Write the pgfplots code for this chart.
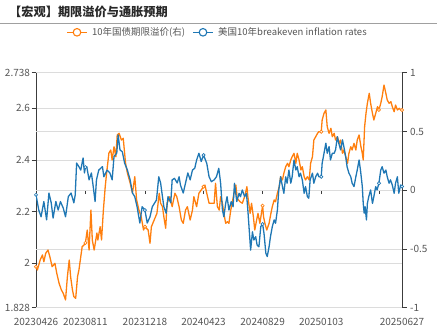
\documentclass[border=0pt]{standalone}
\usepackage{fontspec}
\setmainfont{Noto Sans CJK SC}
\usepackage{pgfplots}
\pgfplotsset{compat=1.18}
\usepackage{pgfplotstable}
\definecolor{cblue}{RGB}{31,119,180}
\definecolor{corange}{RGB}{255,127,14}
\definecolor{gridc}{RGB}{220,220,220}
\definecolor{axc}{RGB}{60,60,60}
\definecolor{txt}{RGB}{85,85,85}

\pgfplotstableread{
day val
0 2.265
6 2.206
11 2.180
17 2.239
23 2.168
28 2.272
33 2.234
37 2.175
43 2.239
48 2.206
53 2.239
59 2.214
64 2.180
70 2.258
76 2.272
82 2.234
85 2.265
88 2.388
93 2.374
97 2.361
102 2.408
105 2.350
107 2.372
110 2.374
115 2.323
120 2.350
124 2.297
128 2.239
131 2.323
136 2.361
144 2.374
147 2.335
154 2.361
160 2.350
165 2.323
169 2.413
175 2.427
178 2.497
182 2.439
187 2.432
192 2.388
198 2.361
204 2.323
209 2.272
214 2.258
219 2.219
225 2.156
230 2.219
236 2.206
241 2.156
247 2.180
252 2.219
261 2.245
266 2.335
270 2.311
274 2.258
277 2.219
282 2.194
286 2.258
292 2.234
295 2.323
300 2.329
306 2.311
310 2.335
313 2.303
319 2.272
324 2.311
329 2.350
334 2.323
339 2.361
344 2.368
348 2.400
353 2.426
358 2.394
363 2.419
370 2.387
375 2.335
380 2.316
386 2.323
391 2.335
396 2.368
400 2.310
404 2.206
407 2.180
411 2.232
414 2.258
418 2.206
423 2.239
427 2.219
430 2.310
435 2.239
440 2.271
443 2.258
447 2.284
452 2.258
456 2.271
459 2.206
462 2.129
465 2.051
469 2.122
472 2.090
476 2.103
479 2.071
483 2.064
487 2.142
491 2.152
494 2.116
498 2.039
501 2.026
505 2.064
508 2.103
512 2.142
516 2.168
519 2.155
523 2.206
526 2.284
530 2.335
534 2.297
537 2.271
541 2.335
544 2.310
548 2.361
552 2.310
555 2.335
559 2.400
563 2.361
566 2.374
570 2.335
573 2.349
577 2.323
581 2.271
584 2.297
588 2.258
591 2.252
594 2.323
599 2.349
602 2.310
606 2.335
610 2.349
613 2.335
618 2.335
620 2.387
624 2.426
628 2.465
631 2.426
635 2.452
638 2.400
642 2.426
646 2.426
649 2.439
653 2.490
656 2.465
660 2.439
664 2.478
667 2.452
671 2.413
674 2.374
678 2.349
682 2.335
685 2.310
689 2.297
693 2.335
696 2.361
700 2.400
703 2.361
707 2.297
709 2.232
711 2.194
713 2.219
716 2.168
718 2.232
721 2.258
725 2.284
729 2.232
732 2.258
736 2.297
739 2.284
743 2.310
747 2.361
750 2.374
754 2.349
758 2.361
761 2.335
765 2.310
768 2.323
772 2.303
776 2.271
779 2.310
783 2.335
786 2.271
790 2.303
793 2.297
}\bluetable

\pgfplotstableread{
day val
0 -0.651
3 -0.679
9 -0.594
14 -0.551
17 -0.609
21 -0.537
26 -0.509
30 -0.566
35 -0.651
41 -0.622
45 -0.707
50 -0.792
55 -0.849
59 -0.877
64 -0.934
68 -0.736
72 -0.594
75 -0.736
79 -0.849
82 -0.906
86 -0.920
90 -0.736
93 -0.679
97 -0.566
100 -0.481
104 -0.466
107 -0.449
111 -0.339
115 -0.509
119 -0.169
122 -0.424
126 -0.509
132 -0.364
134 -0.424
139 -0.311
142 -0.424
146 -0.169
150 0.030
153 0.146
158 0.317
162 0.342
165 0.257
169 0.370
173 0.285
176 0.470
180 0.484
185 0.427
189 0.442
194 0.231
198 0.146
204 0.061
209 -0.024
214 0.115
218 -0.083
223 -0.169
228 -0.226
233 -0.339
236 -0.311
243 -0.339
247 -0.452
250 -0.311
256 -0.254
262 -0.197
267 -0.026
270 -0.111
274 -0.140
277 -0.226
281 -0.324
284 -0.111
290 -0.055
295 -0.140
301 -0.026
305 -0.055
310 -0.140
315 -0.254
319 -0.282
324 -0.169
328 -0.140
334 -0.254
339 -0.169
342 -0.055
348 -0.140
353 -0.026
358 0.002
363 0.030
366 0.044
370 -0.026
375 -0.111
380 -0.111
386 -0.111
389 0.059
393 -0.140
397 -0.169
400 -0.055
404 -0.111
407 -0.197
411 -0.282
415 -0.268
418 -0.282
422 -0.169
425 -0.111
429 -0.026
433 0.044
436 -0.069
442 -0.098
447 -0.111
452 -0.055
457 0.030
459 -0.055
464 -0.197
467 -0.111
471 -0.226
474 -0.339
478 -0.254
481 -0.197
485 -0.282
491 -0.132
493 -0.226
496 -0.282
500 -0.339
505 -0.282
509 -0.197
512 -0.140
516 -0.083
519 -0.098
523 -0.026
527 0.030
530 0.115
534 0.087
537 0.144
541 0.200
545 0.229
548 0.200
552 0.257
555 0.285
559 0.314
563 0.229
566 0.314
570 0.257
574 0.172
577 0.200
581 0.115
584 0.087
588 0.115
592 0.087
595 0.229
599 0.285
602 0.427
606 0.455
610 0.484
613 0.498
618 0.498
620 0.597
624 0.654
628 0.683
631 0.540
635 0.484
639 0.527
642 0.455
646 0.484
649 0.427
653 0.455
657 0.399
660 0.427
664 0.314
667 0.342
671 0.285
675 0.229
678 0.314
682 0.370
685 0.342
689 0.399
693 0.342
696 0.427
700 0.470
704 0.370
707 0.314
709 0.257
712 0.540
715 0.654
718 0.740
722 0.825
725 0.740
729 0.654
732 0.597
736 0.654
740 0.711
743 0.683
747 0.740
750 0.796
754 0.895
758 0.825
761 0.768
765 0.740
769 0.753
772 0.711
776 0.668
779 0.725
783 0.683
787 0.697
790 0.683
793 0.683
}\orangetable

\pgfplotsset{
  base/.style={
    scale only axis, width=366pt, height=235pt,
    at={(36pt,22.3pt)}, anchor=south west,
    xmin=0, xmax=793,
    ticklabel style={font=\fontsize{10}{12}\selectfont, text=txt},
    tick style={draw=axc, line width=0.7pt},
    tick align=outside, major tick length=4.5pt,
  },
}

\begin{document}
\begin{tikzpicture}
\path[use as bounding box] (0,0) rectangle (441pt,330pt);

% left axis: grid, labels
\begin{axis}[base,
  ymin=1.828, ymax=2.738,
  axis x line*=bottom, axis y line*=left,
  x axis line style={draw=gridc, line width=0.8pt, -},
  y axis line style={draw=axc, line width=0.8pt, -},
  xtick={0,107,236,363,491,618,793},
  xticklabels={20230426,20230811,20231218,20240423,20240829,20250103,20250627},
  xtick style={draw=none},
  major x tick style={draw=none},
  xticklabel style={yshift=-3pt},
  yticklabel style={xshift=2pt},
  ytick={1.828,2,2.2,2.4,2.6,2.738},
  yticklabels={1.828,2,2.2,2.4,2.6,2.738},
  ymajorgrids, grid style={draw=gridc, line width=0.8pt},
]
\end{axis}

% zero line with its ticks (right scale)
\begin{axis}[base,
  ymin=-1, ymax=1,
  axis x line=middle, axis y line=none,
  x axis line style={draw=axc, line width=0.8pt, -},
  xtick={107,236,363,491,618,743},
  xticklabels={},
  xtick style={draw=axc, line width=0.7pt},
  major tick length=4pt, tick align=outside,
]
\end{axis}

% right axis: orange
\begin{axis}[base,
  ymin=-1, ymax=1,
  axis x line=none, axis y line*=right,
  y axis line style={draw=axc, line width=0.8pt, -},
  ytick={-1,-0.5,0,0.5,1},
  yticklabels={-1,-0.5,0,0.5,1},
  ymajorgrids, grid style={draw=gridc, line width=0.8pt},
]
\addplot[corange, line width=1.3pt, line join=round] table[x=day,y=val] {\orangetable};
\addplot[only marks, mark=*, mark size=1.6pt, mark options={fill=white, draw=corange, line width=0.7pt}]
  coordinates {(0,-0.651) (107,-0.449) (236,-0.311) (363,0.030) (491,-0.132) (618,0.498) (743,0.683) (793,0.683)};
\end{axis}

% blue series on left scale
\begin{axis}[base, ymin=1.828, ymax=2.738, hide axis]
\addplot[cblue, line width=1.3pt, line join=round] table[x=day,y=val] {\bluetable};
\addplot[only marks, mark=*, mark size=1.6pt, mark options={fill=white, draw=cblue, line width=0.7pt}]
  coordinates {(0,2.265) (107,2.372) (236,2.206) (363,2.419) (491,2.152) (618,2.335) (743,2.310) (793,2.297)};
\end{axis}

% title and rule
\node[anchor=west, inner sep=0pt, font=\bfseries\fontsize{12.2}{14}\selectfont, text={rgb,255:red,40;green,40;blue,40}] at (9pt,318pt) {【宏观】期限溢价与通胀预期};
\draw[draw={rgb,255:red,160;green,160;blue,160}, line width=0.8pt] (0pt,306.7pt) -- (437pt,306.7pt);

% legend
\draw[corange, line width=1.3pt] (67pt,297.7pt) -- (87pt,297.7pt);
\draw[corange, line width=1.1pt, fill=white] (77pt,297.7pt) circle (3.8pt);
\node[anchor=west, inner sep=0pt, font=\fontsize{9.5}{11}\selectfont, text=txt] at (92pt,297.7pt) {10年国债期限溢价(右)};
\draw[cblue, line width=1.3pt] (193pt,297.7pt) -- (213pt,297.7pt);
\draw[cblue, line width=1.1pt, fill=white] (203pt,297.7pt) circle (3.8pt);
\node[anchor=west, inner sep=0pt, font=\fontsize{9.5}{11}\selectfont, text=txt] at (218pt,297.7pt) {美国10年breakeven inflation rates};
\end{tikzpicture}
\end{document}
